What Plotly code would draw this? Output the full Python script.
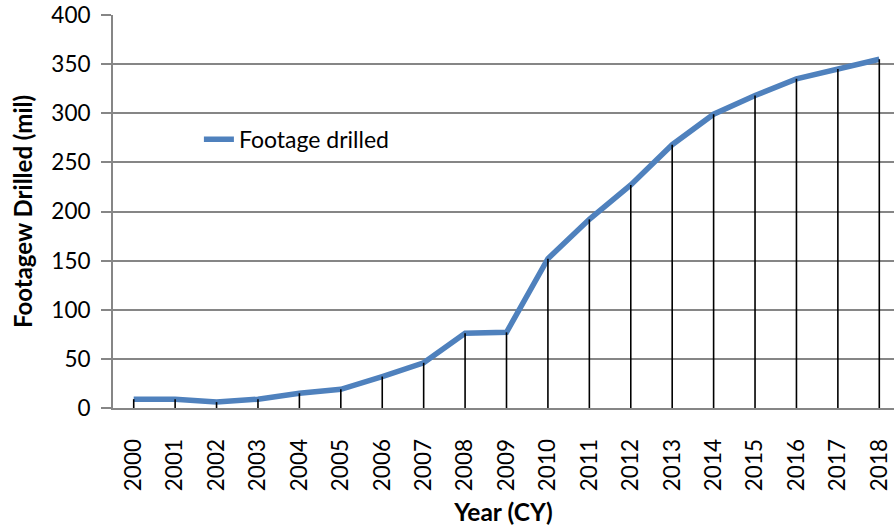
import plotly.graph_objects as go

years = [str(y) for y in range(2000, 2019)]
footage = [9, 9, 6, 9, 15, 19, 32, 46, 76, 77, 152, 192, 227, 268, 299, 318, 335, 345, 355]

GRID = "#868686"
FONT = "Lato"

drop_x, drop_y = [], []
for yr, v in zip(years, footage):
    drop_x += [yr, yr, None]
    drop_y += [0, v, None]

fig = go.Figure()
fig.add_trace(go.Scatter(
    x=years, y=footage, mode="lines", name="Footage drilled",
    line=dict(color="#4F81BD", width=5.5),
))
fig.add_trace(go.Scatter(
    x=drop_x, y=drop_y, mode="lines", showlegend=False, hoverinfo="skip",
    line=dict(color="black", width=1.6),
))

fig.update_layout(
    width=894, height=529,
    margin=dict(l=113, r=0, t=15, b=121),
    paper_bgcolor="white", plot_bgcolor="white",
    font=dict(family=FONT, size=22, color="black"),
    showlegend=True,
    legend=dict(x=0.11, y=0.684, xanchor="left", yanchor="middle",
                bgcolor="rgba(0,0,0,0)", font=dict(size=23, family=FONT)),
    xaxis=dict(
        type="category", range=[-0.5, 18.355],
        showgrid=False, showline=True, linecolor=GRID, linewidth=2,
        ticks="", tickangle=-90, ticklabelstandoff=20,
        tickfont=dict(size=22.5),
        title=dict(text="<b>Year (CY)</b>", font=dict(size=24.5), standoff=14),
    ),
    yaxis=dict(
        range=[0, 400], tickvals=[0, 50, 100, 150, 200, 250, 300, 350, 400],
        showgrid=True, gridcolor=GRID, gridwidth=1.6,
        showline=True, linecolor=GRID, linewidth=2,
        ticks="outside", ticklen=10, tickcolor=GRID, tickwidth=1.6,
        ticklabelstandoff=6, zeroline=False,
        tickfont=dict(size=22.5),
        title=dict(text="<b>Footagew Drilled (mil)</b>", font=dict(size=24), standoff=12),
    ),
)

fig.write_html("out.html", config={"displayModeBar": False},
               post_script="document.body.style.margin='0';document.body.style.padding='0';")
